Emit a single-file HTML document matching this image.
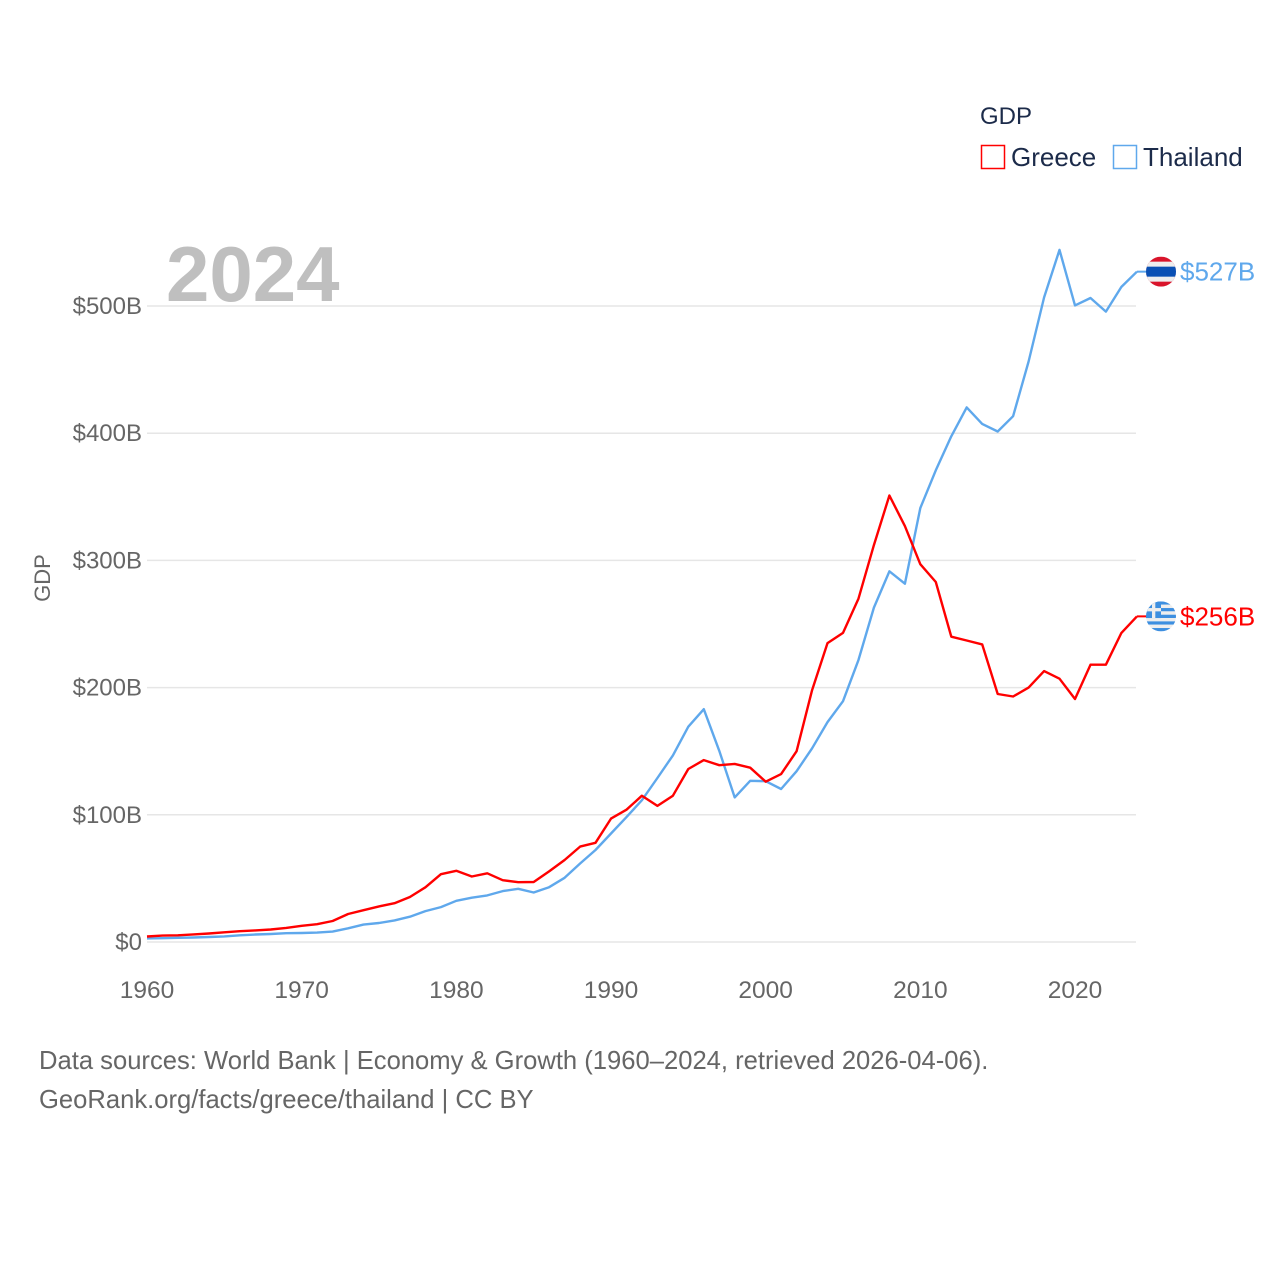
<!DOCTYPE html>
<html><head><meta charset="utf-8"><style>
body{margin:0;background:#fff;}
svg text{font-family:"Liberation Sans",sans-serif;}
</style></head><body>
<svg id="chart" width="1280" height="1280" xmlns="http://www.w3.org/2000/svg">
<rect width="1280" height="1280" fill="#fff"/>
<g id="grid"></g><g id="yticks"></g><g id="xticks"></g><g id="lines"></g>
<text x="166" y="301" font-size="78" font-weight="bold" fill="#bfbfbf">2024</text>
<text transform="translate(50,578) rotate(-90)" text-anchor="middle" font-size="22" fill="#666">GDP</text>
<text x="980" y="124" font-size="24" fill="#1c2b4a">GDP</text>
<g>
<rect x="981.5" y="145.5" width="23" height="23" fill="none" stroke="#ff0000" stroke-width="1.5"/>
<text x="1011" y="166" font-size="26" fill="#1c2b4a">Greece</text></g>
<g>
<rect x="1113.5" y="145.5" width="23" height="23" fill="none" stroke="#5fa8ec" stroke-width="1.5"/>
<text x="1143" y="166" font-size="26" fill="#1c2b4a">Thailand</text></g>
<text x="39" y="1069" font-size="25.6" fill="#666">Data sources: World Bank | Economy &amp; Growth (1960–2024, retrieved 2026-04-06).</text>
<text x="39" y="1108" font-size="25.6" fill="#666">GeoRank.org/facts/greece/thailand | CC BY</text>
</svg>
<script>
const years = Array.from({length:65},(_,i)=>1960+i);
const greece = [4.3,5.0,5.3,6.0,6.7,7.6,8.5,9.1,9.8,11.1,12.7,14.0,16.5,22.0,25.0,28.0,30.5,35.4,43.0,53.3,56.0,51.5,54.0,48.6,47.0,47.2,55.5,64.5,75.0,78.0,97.0,104,115,107,115,136,143,139,140,137,126,132,150,198,235,243,270,312,351,327,297,283,240,237,234,195,193,200,213,207,191,218,218,243,256];
const thailand = [2.8,3.0,3.3,3.5,3.9,4.4,5.3,5.9,6.3,6.9,7.1,7.4,8.2,10.8,13.7,14.9,17.0,19.9,24.3,27.4,32.4,34.8,36.6,40.0,41.8,38.9,43.1,50.5,61.7,72.3,85.3,98.2,111.5,128.9,146.7,169.3,183.0,150.2,113.7,126.7,126.4,120.3,134.3,152.3,172.9,189.3,221.8,262.9,291.4,281.7,341.1,370.8,397.6,420.3,407.3,401.3,413.4,456.4,506.8,544.1,500.5,506.3,495.6,515.0,527];
const yTicks = [0,100,200,300,400,500];
const yTickLabels = ["$0","$100B","$200B","$300B","$400B","$500B"];
const xTicks = [1960,1970,1980,1990,2000,2010,2020];
const endLabels = ["$256B","$527B"];
const NS="http://www.w3.org/2000/svg";
const X=y=>147+(y-1960)*(928/60);
const Y=v=>942-v*1.272;
function mk(t,a,p){const e=document.createElementNS(NS,t);for(const k in a)e.setAttribute(k,a[k]);p.appendChild(e);return e;}
const grid=document.getElementById('grid'),yt=document.getElementById('yticks'),xt=document.getElementById('xticks'),lines=document.getElementById('lines');
yTicks.forEach((v,i)=>{
 const l=mk('line',{x1:147,x2:1136,y1:Y(v),y2:Y(v),stroke:'#e6e6e6','stroke-width':1.5},grid);
 
 
 const t=mk('text',{x:142,y:Y(v)+8,'text-anchor':'end','font-size':24,fill:'#666'},yt);
 t.textContent=yTickLabels[i];
 
 
});
xTicks.forEach(v=>{
 const t=mk('text',{x:X(v),y:998,'text-anchor':'middle','font-size':24.5,fill:'#666'},xt);
 t.textContent=v;
 
 
});
function series(vals,color,name,label){
 const d=vals.map((v,i)=>(i?'L':'M')+X(years[i]).toFixed(1)+' '+Y(v).toFixed(1)).join(' ');
 const p=mk('path',{d:d,fill:'none',stroke:color,'stroke-width':2.4,'stroke-linejoin':'round'},lines);
 
 
 const last=vals[vals.length-1],ly=Y(last);
 mk('line',{x1:X(2024),x2:1147,y1:ly,y2:ly,stroke:color,'stroke-width':2},lines);
 const g=mk('g',{},lines);
 
 
 const cid='c'+name;
 const cp=mk('clipPath',{id:cid},g);mk('circle',{cx:1161,cy:ly,r:15},cp);
 const fg=mk('g',{'clip-path':'url(#'+cid+')'},g);
 if(name==='thailand'){
  mk('rect',{x:1146,y:ly-15,width:30,height:30,fill:'#d9142b'},fg);
  mk('rect',{x:1146,y:ly-10,width:30,height:20,fill:'#eee'},fg);
  mk('rect',{x:1146,y:ly-5,width:30,height:10,fill:'#0a50b4'},fg);
 } else {
  for(let i=0;i<9;i++)mk('rect',{x:1146,y:ly-15+i*30/9,width:30,height:30/9,fill:i%2?'#eee':'#3d8fe0'},fg);
  mk('rect',{x:1146,y:ly-15,width:15,height:16.7,fill:'#3d8fe0'},fg);
  mk('rect',{x:1152,y:ly-15,width:3.3,height:16.7,fill:'#eee'},fg);
  mk('rect',{x:1146,y:ly-8.3,width:15,height:3.3,fill:'#eee'},fg);
 }
 const t=mk('text',{x:1180,y:ly+9,'font-size':26,fill:color},lines);
 t.textContent=label;
 
 
}
series(thailand,'#5fa8ec','thailand',endLabels[1]);
series(greece,'#ff0000','greece',endLabels[0]);
</script>
</body></html>
